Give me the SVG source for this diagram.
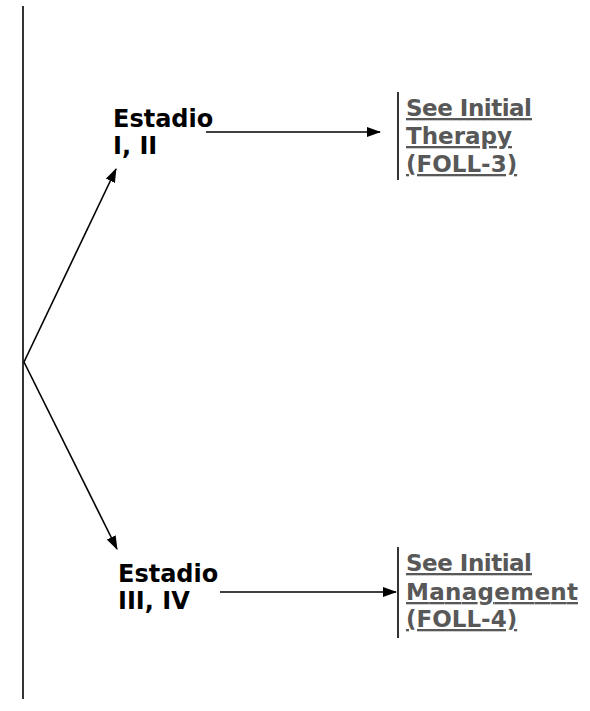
<svg xmlns="http://www.w3.org/2000/svg" width="590" height="711" viewBox="0 0 590 711">
<defs>
<marker id="ah" markerWidth="14" markerHeight="10" refX="13" refY="5" orient="auto" markerUnits="userSpaceOnUse">
<path d="M0,0 L14,5 L0,10 Z" fill="#000"/>
</marker>
</defs>
<style>
.lbl{font-family:"DejaVu Sans","Liberation Sans",sans-serif;font-weight:bold;font-size:24px;fill:#000}
.lnk{font-family:"DejaVu Sans","Liberation Sans",sans-serif;font-weight:bold;font-size:23px;fill:#585858;text-decoration:underline}
.ln{stroke:#000;stroke-width:1.6;fill:none}
.bar{stroke:#333;stroke-width:2;fill:none}
</style>
<rect width="590" height="711" fill="#fff"/>
<g id="connectors">
<line class="ln" x1="23" y1="6" x2="23" y2="699"/>
<line class="ln" x1="24" y1="362" x2="116" y2="169" marker-end="url(#ah)"/>
<line class="ln" x1="24" y1="362" x2="117" y2="549" marker-end="url(#ah)"/>
<line class="ln" x1="206" y1="132" x2="380" y2="132" marker-end="url(#ah)"/>
<line class="ln" x1="220" y1="592" x2="396" y2="592" marker-end="url(#ah)"/>
</g>
<g id="stage12">
<text class="lbl" x="113" y="127">Estadio</text>
<text class="lbl" x="113" y="154">I, II</text>
</g>
<g id="stage34">
<text class="lbl" x="118" y="582">Estadio</text>
<text class="lbl" x="118" y="609">III, IV</text>
</g>
<g id="therapy">
<line class="bar" x1="398" y1="92" x2="398" y2="180"/>
<text class="lnk" x="406" y="116" textLength="126">See Initial</text>
<text class="lnk" x="406" y="144">Therapy</text>
<text class="lnk" x="406" y="172">(FOLL-3)</text>
</g>
<g id="management">
<line class="bar" x1="398" y1="547" x2="398" y2="638"/>
<text class="lnk" x="406" y="571" textLength="126">See Initial</text>
<text class="lnk" x="406" y="600" textLength="172">Management</text>
<text class="lnk" x="406" y="627">(FOLL-4)</text>
</g>
</svg>
